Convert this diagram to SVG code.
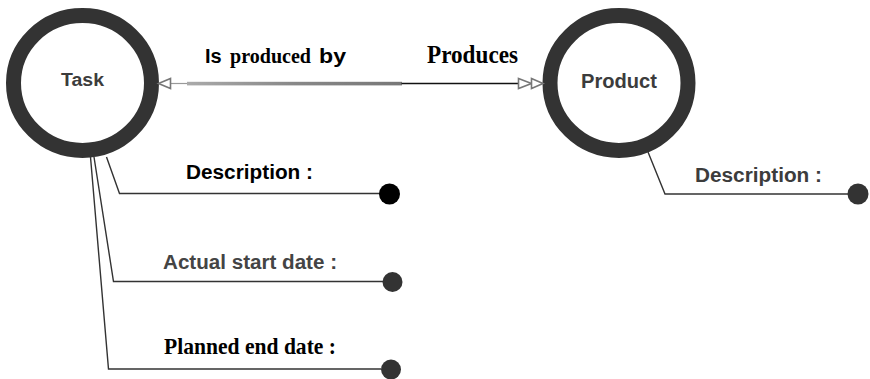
<svg xmlns="http://www.w3.org/2000/svg" width="870" height="379" viewBox="0 0 870 379">
  <style>
    .ring { fill: none; stroke: #333; stroke-width: 15; }
    .sans { font-family: "Liberation Sans", Arial, sans-serif; font-weight: bold; }
    .serif { font-family: "Liberation Serif", "Times New Roman", serif; font-weight: bold; }
    .name { fill: #3c3c3c; }
    .attr-line { fill: none; stroke: #333; stroke-width: 1.4; }
    .dot { fill: #333; }
  </style>
  <defs>
    <linearGradient id="shade" x1="0" y1="0" x2="1" y2="0">
      <stop offset="0" stop-color="#aaa"/>
      <stop offset="0.5" stop-color="#888"/>
      <stop offset="1" stop-color="#777"/>
    </linearGradient>
  </defs>

  <rect x="0" y="0" width="870" height="379" fill="#fff"/>

  <!-- Entities -->
  <g id="task">
    <ellipse class="ring" cx="82.5" cy="83" rx="69" ry="67.5"/>
    <text class="sans name" x="61" y="86" font-size="18" textLength="43" lengthAdjust="spacingAndGlyphs">Task</text>
  </g>

  <g id="product">
    <ellipse class="ring" cx="619" cy="83" rx="69" ry="67.5"/>
    <text class="sans name" x="581" y="88" font-size="19.5" textLength="76" lengthAdjust="spacingAndGlyphs">Product</text>
  </g>

  <!-- Attributes of Task -->
  <g id="task-description">
    <polyline class="attr-line" points="106.5,157 119.5,193.5 380,193.5"/>
    <circle cx="389.5" cy="194" r="10.5" fill="#000"/>
    <text class="sans" x="186" y="179" font-size="19.5" fill="#000" textLength="127" lengthAdjust="spacingAndGlyphs">Description :</text>
  </g>

  <g id="task-actual-start">
    <polyline class="attr-line" points="94,157 113.5,281.5 383,281.5"/>
    <circle class="dot" cx="392.5" cy="282" r="10"/>
    <text class="sans" x="163" y="269" font-size="19.5" fill="#444" textLength="174" lengthAdjust="spacingAndGlyphs">Actual start date :</text>
  </g>

  <g id="task-planned-end">
    <polyline class="attr-line" points="90.5,157 108.5,369 381,369"/>
    <circle class="dot" cx="391" cy="369.5" r="10"/>
    <text class="serif" x="164" y="354" font-size="23" fill="#000" textLength="172" lengthAdjust="spacingAndGlyphs">Planned end date :</text>
  </g>

  <!-- Attribute of Product -->
  <g id="product-description">
    <polyline class="attr-line" points="648,152 665,194 849,194"/>
    <circle class="dot" cx="858" cy="194" r="10.5"/>
    <text class="sans name" x="695" y="182" font-size="19.5" textLength="127" lengthAdjust="spacingAndGlyphs">Description :</text>
  </g>

  <!-- Relationship between Task and Product -->
  <g id="connectors">
    <line x1="170.5" y1="83.5" x2="187" y2="83.5" stroke="#999" stroke-width="1.2"/>
    <rect x="187" y="81.8" width="215" height="3.6" fill="url(#shade)"/>
    <line x1="401.5" y1="83.5" x2="518" y2="83.5" stroke="#111" stroke-width="1.5"/>
    <!-- single open arrowhead at Task -->
    <polygon points="158.5,83.5 170.5,78.5 170.5,88.5" fill="#fff" stroke="#777" stroke-width="1.6"/>
    <!-- double open arrowhead at Product -->
    <polygon points="518.5,78.5 531.5,83.5 518.5,88.5" fill="#fff" stroke="#777" stroke-width="1.6"/>
    <polygon points="531.5,78.5 543,83.5 531.5,88.5" fill="#fff" stroke="#777" stroke-width="1.6"/>
  </g>

  <g id="relationship-labels">
    <text y="63" fill="#000">
      <tspan class="sans" x="205" font-size="20">Is</tspan>
      <tspan class="serif" x="230" font-size="22" textLength="81" lengthAdjust="spacingAndGlyphs">produced</tspan>
      <tspan class="sans" x="319" font-size="20" textLength="27" lengthAdjust="spacingAndGlyphs">by</tspan>
    </text>
    <text class="serif" x="427" y="63" font-size="25" fill="#000" textLength="91" lengthAdjust="spacingAndGlyphs">Produces</text>
  </g>
</svg>
